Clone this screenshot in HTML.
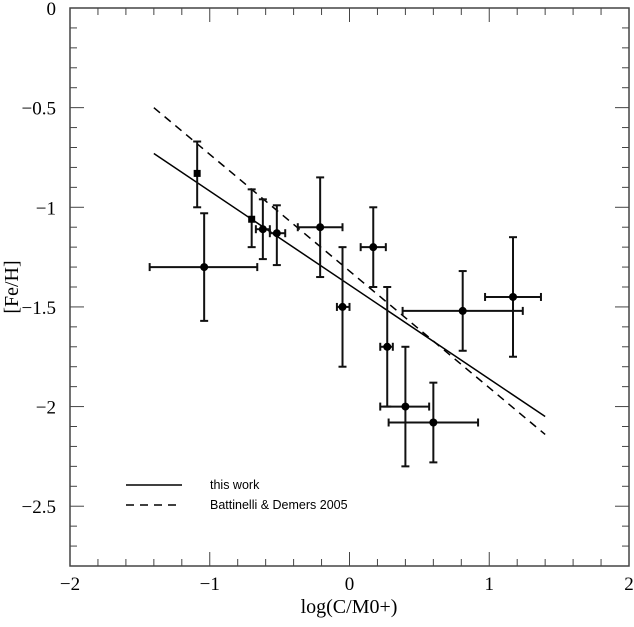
<!DOCTYPE html>
<html><head><meta charset="utf-8"><style>
html,body{margin:0;padding:0;background:#fff;}
svg{display:block;}
</style></head><body>
<svg id="chart" width="634" height="627" viewBox="0 0 634 627" xmlns="http://www.w3.org/2000/svg">
<g id="axes"></g>
<g id="marks"></g>
<g id="legend">
  <line x1="126" y1="485" x2="182" y2="485" stroke="#000" stroke-width="1.5"/>
  <text x="210" y="489" font-family="Liberation Sans, sans-serif" font-size="12.5">this work</text>
  <line x1="126" y1="505" x2="182" y2="505" stroke="#000" stroke-width="1.5" stroke-dasharray="8,6"/>
  <text x="210" y="509" font-family="Liberation Sans, sans-serif" font-size="12.5">Battinelli &amp; Demers 2005</text>
</g>
<text x="349" y="613" text-anchor="middle" font-family="Liberation Serif, serif" font-size="20">log(C/M0+)</text>
<text transform="translate(18,287) rotate(-90)" text-anchor="middle" font-family="Liberation Serif, serif" font-size="20">[Fe/H]</text>
</svg>
<script>
const xTicks=[-2,-1,0,1,2];
const yTicks=[0,-0.5,-1,-1.5,-2,-2.5];
const xTickLabels=["\u22122","\u22121","0","1","2"];
const yTickLabels=["0","\u22120.5","\u22121","\u22121.5","\u22122","\u22122.5"];
const ptX=[-1.09,-1.04,-0.70,-0.62,-0.52,-0.21,-0.05,0.17,0.27,0.40,0.60,0.81,1.17];
const ptY=[-0.83,-1.30,-1.06,-1.11,-1.13,-1.10,-1.50,-1.20,-1.70,-2.00,-2.08,-1.52,-1.45];
const xLo=[null,-1.43,null,-0.67,-0.57,-0.37,-0.09,0.08,0.22,0.22,0.28,0.38,0.97];
const xHi=[null,-0.66,null,-0.57,-0.46,-0.05,0.00,0.26,0.31,0.57,0.92,1.24,1.37];
const yHi=[-0.67,-1.03,-0.91,-0.96,-0.99,-0.85,-1.20,-1.00,-1.40,-1.70,-1.88,-1.32,-1.15];
const yLo=[-1.00,-1.57,-1.20,-1.26,-1.29,-1.35,-1.80,-1.40,-2.00,-2.30,-2.28,-1.72,-1.75];
const ptShape=["square","circle","square","circle","circle","circle","circle","circle","circle","circle","circle","circle","circle"];
const fitX=[-1.4,1.4];
const fitThis=[-0.73,-2.05];
const fitBD=[-0.50,-2.14];

const X0=70,X1=629,Y0=8,Y1=566;
const xmin=-2,xmax=2,ymax=0,ymin=-2.8;
function sx(v){return X0+(v-xmin)/(xmax-xmin)*(X1-X0);}
function sy(v){return Y0+(ymax-v)/(ymax-ymin)*(Y1-Y0);}
const NS="http://www.w3.org/2000/svg";
function mk(tag,attrs,parent){const e=document.createElementNS(NS,tag);for(const k in attrs)e.setAttribute(k,attrs[k]);parent.appendChild(e);return e;}
const ax=document.getElementById('axes');
const mg=document.getElementById('marks');
let fr=mk('rect',{x:X0,y:Y0,width:X1-X0,height:Y1-Y0,fill:'none',stroke:'#444','stroke-width':1.5},ax);


for(let i=0;i<=20;i++){const v=xmin+i*0.2;const major=Math.abs(v-Math.round(v))<1e-6;const L=major?14:7;const x=sx(v);
 let t=mk('line',{x1:x,y1:Y1,x2:x,y2:Y1-L,stroke:'#444','stroke-width':1},ax);
 
 
 let t2=mk('line',{x1:x,y1:Y0,x2:x,y2:Y0+L,stroke:'#444','stroke-width':1},ax);
 
 }
for(let i=0;i<=28;i++){const v=ymax-i*0.1;const major=(i%5===0);const L=major?14:7;const y=sy(v);
 let t=mk('line',{x1:X0,y1:y,x2:X0+L,y2:y,stroke:'#444','stroke-width':1},ax);
 
 
 let t2=mk('line',{x1:X1,y1:y,x2:X1-L,y2:y,stroke:'#444','stroke-width':1},ax);
 
 }
xTicks.forEach((v,i)=>{let t=mk('text',{x:sx(v),y:590,'text-anchor':'middle','font-family':'Liberation Serif, serif','font-size':19},ax);t.textContent=xTickLabels[i];
 
 });
yTicks.forEach((v,i)=>{let t=mk('text',{x:56,y:sy(v)+7,'text-anchor':'end','font-family':'Liberation Serif, serif','font-size':19},ax);t.textContent=yTickLabels[i];
 
 });
let l1=mk('line',{x1:sx(fitX[0]),y1:sy(fitThis[0]),x2:sx(fitX[1]),y2:sy(fitThis[1]),stroke:'#000','stroke-width':1.5},mg);


let l2=mk('line',{x1:sx(fitX[0]),y1:sy(fitBD[0]),x2:sx(fitX[1]),y2:sy(fitBD[1]),stroke:'#000','stroke-width':1.5,'stroke-dasharray':'8,6'},mg);


for(let i=0;i<ptX.length;i++){
 const g=mk('g',{},mg);
 
 
 const cx=sx(ptX[i]),cy=sy(ptY[i]);
 const st={stroke:'#111','stroke-width':2};
 const ya=sy(yHi[i]),yb=sy(yLo[i]);
 mk('line',Object.assign({x1:cx,y1:ya,x2:cx,y2:yb},st),g);
 mk('line',Object.assign({x1:cx-4,y1:ya,x2:cx+4,y2:ya},st),g);
 mk('line',Object.assign({x1:cx-4,y1:yb,x2:cx+4,y2:yb},st),g);
 if(xLo[i]!==null){const xa=sx(xLo[i]),xb=sx(xHi[i]);
  mk('line',Object.assign({x1:xa,y1:cy,x2:xb,y2:cy},st),g);
  mk('line',Object.assign({x1:xa,y1:cy-4,x2:xa,y2:cy+4},st),g);
  mk('line',Object.assign({x1:xb,y1:cy-4,x2:xb,y2:cy+4},st),g);}
 if(ptShape[i]==='square') mk('rect',{x:cx-3.5,y:cy-3.5,width:7,height:7,fill:'#000'},g);
 else mk('circle',{cx:cx,cy:cy,r:4,fill:'#000'},g);
}
</script>
</body></html>
